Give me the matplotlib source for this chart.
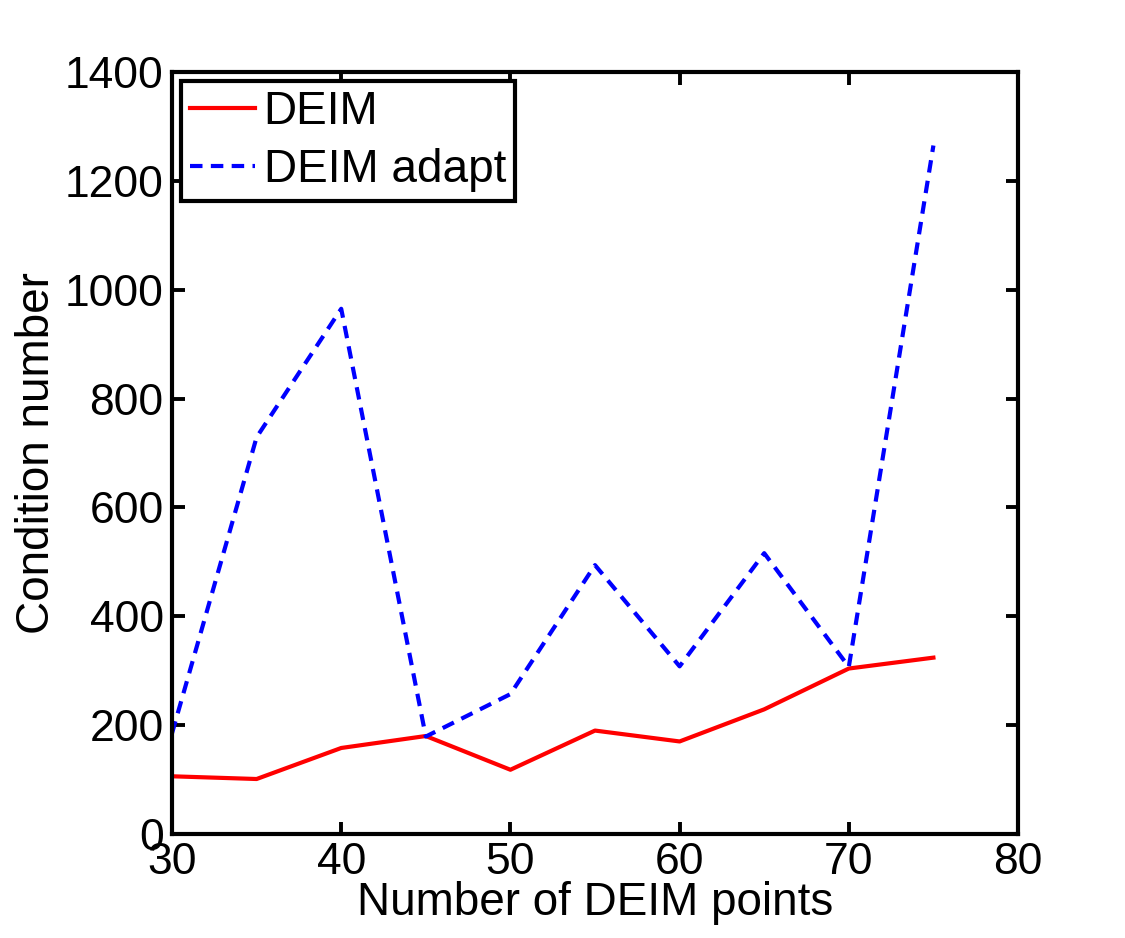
import matplotlib
matplotlib.use('Agg')
import matplotlib.pyplot as plt

n_points = [30, 35, 40, 45, 50, 55, 60, 65, 70, 75]
deim = [106, 101, 158, 180, 118, 190, 170, 229, 304, 324]
deim_adapt = [185, 729, 965, 179, 257, 494, 308, 516, 307, 1265]

plt.rcParams['font.family'] = ['Liberation Sans', 'DejaVu Sans']

fig = plt.figure(figsize=(11.25, 9.38), dpi=100)
ax = fig.add_axes([0.1529, 0.1109, 0.752, 0.8123])

ax.plot(n_points, deim, color='red', lw=3, label='DEIM')
ax.plot(n_points, deim_adapt, color='blue', lw=3, dashes=(3, 2), label='DEIM adapt')

ax.set_xlim(30, 80)
ax.set_ylim(0, 1400)
ax.set_xticks(range(30, 81, 10))
ax.set_yticks(range(0, 1401, 200))
ax.tick_params(direction='in', length=9, width=2.8, labelsize=32,
               top=True, right=True, pad=6)
for s in ax.spines.values():
    s.set_linewidth(3)

ax.set_xlabel('Number of DEIM points', fontsize=33, labelpad=-2)
ax.set_ylabel('Condition number', fontsize=33, labelpad=4)

leg = ax.legend(loc='upper left', fontsize=33, handlelength=1.4,
                handletextpad=0.2, borderpad=0.2, labelspacing=0.3,
                borderaxespad=0.2, fancybox=False, framealpha=1)
leg.get_frame().set_edgecolor('black')
leg.get_frame().set_linewidth(3)

fig.savefig('out.png', dpi=100)
